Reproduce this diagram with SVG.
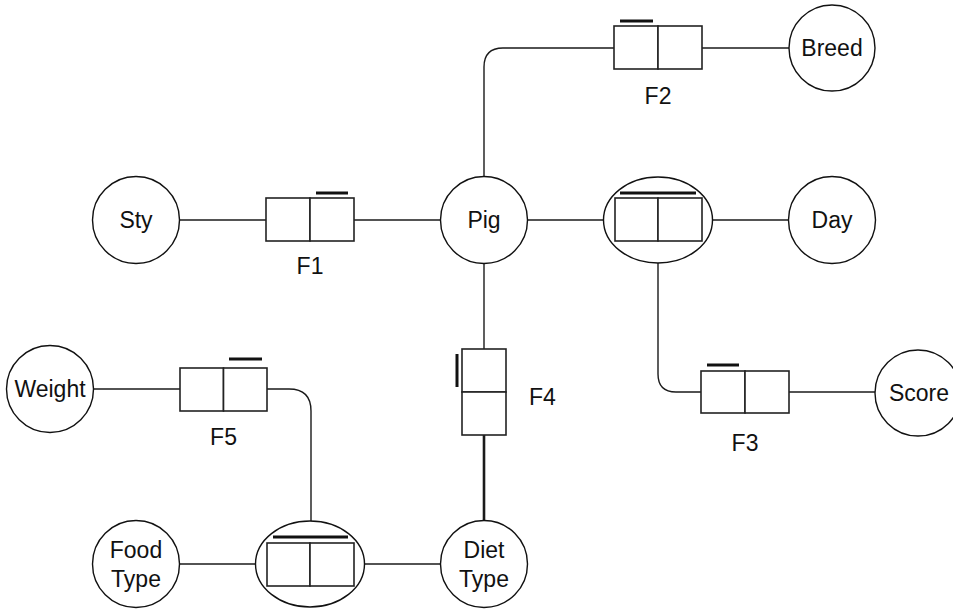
<svg xmlns="http://www.w3.org/2000/svg" width="953" height="609" viewBox="0 0 953 609">
  <style>
    .ent { fill: #ffffff; stroke: #111111; stroke-width: 1.4; }
    .obj { fill: #ffffff; stroke: #111111; stroke-width: 1.4; }
    .role { fill: #ffffff; stroke: #222222; stroke-width: 1.6; }
    .uc { stroke: #111111; stroke-width: 3; fill: none; }
    .conn { fill: none; stroke: #1a1a1a; stroke-width: 1.4; }
    .thick { stroke-width: 2.6; }
    text { font-family: "Liberation Sans", Arial, sans-serif; font-size: 23px; fill: #111111; }
    .c { text-anchor: middle; }
  </style>
  <rect width="953" height="609" fill="#ffffff"/>

  <!-- connectors -->
  <g id="connectors">
    <line class="conn" x1="179.5" y1="220" x2="266" y2="220"/>
    <line class="conn" x1="354" y1="220" x2="441" y2="220"/>
    <line class="conn" x1="527.5" y1="220" x2="615" y2="220"/>
    <line class="conn" x1="702" y1="220" x2="788.5" y2="220"/>
    <path class="conn" d="M484,177 V67 Q484,48 503,48 H614"/>
    <line class="conn" x1="702" y1="48" x2="789" y2="48"/>
    <path class="conn" d="M658,263 V374 Q658,392 676,392 H701"/>
    <line class="conn" x1="789" y1="392" x2="875" y2="392"/>
    <line class="conn" x1="484" y1="263" x2="484" y2="349"/>
    <line class="conn thick" x1="484" y1="435" x2="484" y2="521"/>
    <line class="conn" x1="94" y1="389" x2="180" y2="389"/>
    <path class="conn" d="M267,389 H289 Q311,389 311,411 V521"/>
    <line class="conn" x1="179.5" y1="564" x2="267" y2="564"/>
    <line class="conn" x1="354" y1="564" x2="440.5" y2="564"/>
  </g>

  <!-- entity types -->
  <g id="sty"><circle class="ent" cx="136" cy="220" r="43.5"/><text class="c" x="136" y="228">Sty</text></g>
  <g id="pig"><circle class="ent" cx="484" cy="220" r="43.5"/><text class="c" x="484" y="228">Pig</text></g>
  <g id="breed"><circle class="ent" cx="832" cy="48" r="43"/><text class="c" x="832" y="56">Breed</text></g>
  <g id="day"><circle class="ent" cx="832" cy="220" r="43.5"/><text class="c" x="832" y="228">Day</text></g>
  <g id="score"><circle class="ent" cx="918" cy="393" r="43"/><text class="c" x="919" y="401">Score</text></g>
  <g id="weight"><circle class="ent" cx="50" cy="389" r="43.5"/><text class="c" x="50" y="397">Weight</text></g>
  <g id="food-type"><circle class="ent" cx="136" cy="564" r="43.5"/><text class="c" x="136" y="558">Food</text><text class="c" x="136" y="587">Type</text></g>
  <g id="diet-type"><circle class="ent" cx="484" cy="564" r="43.5"/><text class="c" x="484" y="558">Diet</text><text class="c" x="484" y="587">Type</text></g>

  <!-- fact types -->
  <g id="f1">
    <rect class="role" x="266" y="198" width="44" height="43"/><rect class="role" x="310" y="198" width="44" height="43"/>
    <line class="uc" x1="316" y1="193" x2="348" y2="193"/>
    <text class="c" x="310" y="274">F1</text>
  </g>
  <g id="f2">
    <rect class="role" x="614" y="26" width="44" height="43"/><rect class="role" x="658" y="26" width="44" height="43"/>
    <line class="uc" x1="620" y1="21" x2="653" y2="21"/>
    <text class="c" x="658" y="104">F2</text>
  </g>
  <g id="pig-day">
    <ellipse class="obj" cx="658" cy="220" rx="54.5" ry="43"/>
    <rect class="role" x="615" y="198" width="43" height="43"/><rect class="role" x="658" y="198" width="44" height="43"/>
    <line class="uc" x1="620" y1="193" x2="696" y2="193"/>
  </g>
  <g id="f3">
    <rect class="role" x="701" y="371" width="44" height="42"/><rect class="role" x="745" y="371" width="44" height="42"/>
    <line class="uc" x1="707" y1="365" x2="739" y2="365"/>
    <text class="c" x="745" y="451">F3</text>
  </g>
  <g id="f4">
    <rect class="role" x="462" y="349" width="44" height="43"/><rect class="role" x="462" y="392" width="44" height="43"/>
    <line class="uc" x1="457" y1="354" x2="457" y2="387"/>
    <text x="529" y="405">F4</text>
  </g>
  <g id="f5">
    <rect class="role" x="180" y="368" width="43.5" height="43"/><rect class="role" x="223.5" y="368" width="43.5" height="43"/>
    <line class="uc" x1="229" y1="359" x2="262" y2="359"/>
    <text class="c" x="223.5" y="445">F5</text>
  </g>
  <g id="food-diet">
    <ellipse class="obj" cx="310" cy="564" rx="54.5" ry="43"/>
    <rect class="role" x="267" y="543" width="43" height="43"/><rect class="role" x="310" y="543" width="44" height="43"/>
    <line class="uc" x1="273" y1="537" x2="348" y2="537"/>
  </g>
</svg>
